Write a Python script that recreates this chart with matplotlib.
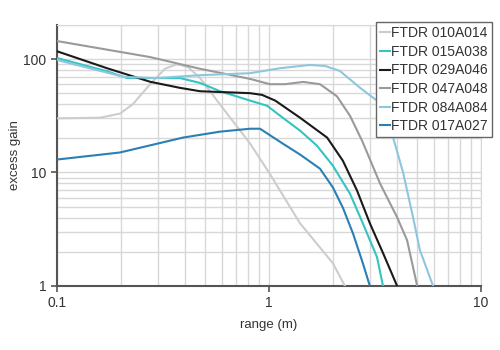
import matplotlib.pyplot as plt
from matplotlib.ticker import NullFormatter, LogLocator

plt.rcParams['font.family'] = ['Liberation Sans', 'DejaVu Sans']

# Data (range in m, excess gain)
labels = ["FTDR 010A014", "FTDR 015A038", "FTDR 029A046",
          "FTDR 047A048", "FTDR 084A084", "FTDR 017A027"]
colors = ['#cdcdcd', '#35c3c3', '#1a1a1a', '#9a9a9a', '#8fc6dd', '#2a7fb5']

x_010 = [0.1, 0.16, 0.198, 0.228, 0.275, 0.323, 0.368, 0.415, 0.473, 0.569, 0.814, 1.0, 1.40, 2.0, 2.28]
y_010 = [30, 30.4, 33, 40, 60, 82, 90, 85, 68, 43, 18, 10, 3.57, 1.59, 1]

x_015 = [0.1, 0.172, 0.214, 0.38, 0.473, 0.588, 0.814, 0.98, 1.16, 1.40, 1.68, 2.0, 2.41, 2.77, 3.23, 3.45]
y_015 = [102, 78, 68, 68, 61.5, 52, 43, 38.7, 30.4, 23.4, 17.3, 11.5, 6.5, 3.57, 1.8, 1]

x_029 = [0.1, 0.172, 0.275, 0.38, 0.473, 0.814, 0.927, 1.07, 1.40, 1.88, 2.23, 2.60, 2.99, 3.45, 4.02]
y_029 = [117, 83, 63, 55.7, 52, 50, 48.3, 43, 30.4, 20.3, 12.7, 6.95, 3.57, 1.95, 1]

x_047 = [0.1, 0.275, 0.473, 0.814, 1.01, 1.19, 1.45, 1.74, 2.09, 2.41, 2.75, 3.34, 4.02, 4.48, 5.0]
y_047 = [144, 104, 82, 66.8, 60, 60, 62.8, 60, 47, 31.6, 19, 8.0, 4.03, 2.53, 1]

x_084 = [0.1, 0.207, 0.296, 0.473, 0.814, 1.13, 1.56, 1.84, 2.16, 2.69, 3.23, 3.85, 4.29, 4.78, 5.15, 5.94]
y_084 = [98, 69.5, 68, 72, 75, 83, 88.6, 86.8, 78.5, 55.7, 43, 20.3, 10, 4.03, 2.07, 1]

x_017 = [0.1, 0.198, 0.393, 0.588, 0.814, 0.907, 1.16, 1.40, 1.74, 2.0, 2.23, 2.49, 2.77, 2.99]
y_017 = [13, 15, 20.3, 22.9, 24.3, 24.3, 18, 14.4, 10.8, 7.4, 4.9, 2.9, 1.59, 1]

xs = [x_010, x_015, x_029, x_047, x_084, x_017]
ys = [y_010, y_015, y_029, y_047, y_084, y_017]

fig = plt.figure(figsize=(5, 3.5), dpi=100)
ax = fig.add_axes([0.114, 0.183, 0.848, 0.746])

for n in range(6):
    ax.plot(xs[n], ys[n], color=colors[n], linewidth=1.5, label=labels[n], zorder=3)

ax.set_xscale('log')
ax.set_yscale('log')
ax.set_xlim(0.1, 10)
ax.set_ylim(1, 200)

ax.xaxis.set_minor_locator(LogLocator(base=10, subs=range(2, 10)))
ax.yaxis.set_minor_locator(LogLocator(base=10, subs=range(2, 10)))
ax.xaxis.set_minor_formatter(NullFormatter())
ax.yaxis.set_minor_formatter(NullFormatter())
ax.set_xticks([0.1, 1, 10])
ax.set_xticklabels(['0.1', '1', '10'])
ax.set_yticks([1, 10, 100])
ax.set_yticklabels(['1', '10', '100'])

ax.grid(which='both', color='#d8d8d8', linewidth=1.0)
ax.tick_params(which='minor', length=0)
ax.tick_params(which='major', length=4, width=1.2, color='#555555',
               labelsize=10, labelcolor='#333333')

for s in ['top', 'right']:
    ax.spines[s].set_color('#d8d8d8')
for s in ['left', 'bottom']:
    ax.spines[s].set_color('#555555')
    ax.spines[s].set_linewidth(1.5)

ax.set_xlabel('range (m)', fontsize=9.5, color='#333333', labelpad=6)
ax.set_ylabel('excess gain', fontsize=9.5, color='#333333', labelpad=2)

leg = fig.legend(loc='upper right', bbox_to_anchor=(0.984, 0.937), fontsize=10,
                 handlelength=0.7, handletextpad=0.1, labelspacing=0.33,
                 borderpad=0.3, borderaxespad=0, fancybox=False, framealpha=1,
                 edgecolor='#666666')
leg.get_frame().set_linewidth(1.0)
for t in leg.get_texts():
    t.set_color('#333333')

fig.savefig('out.png', dpi=100)
